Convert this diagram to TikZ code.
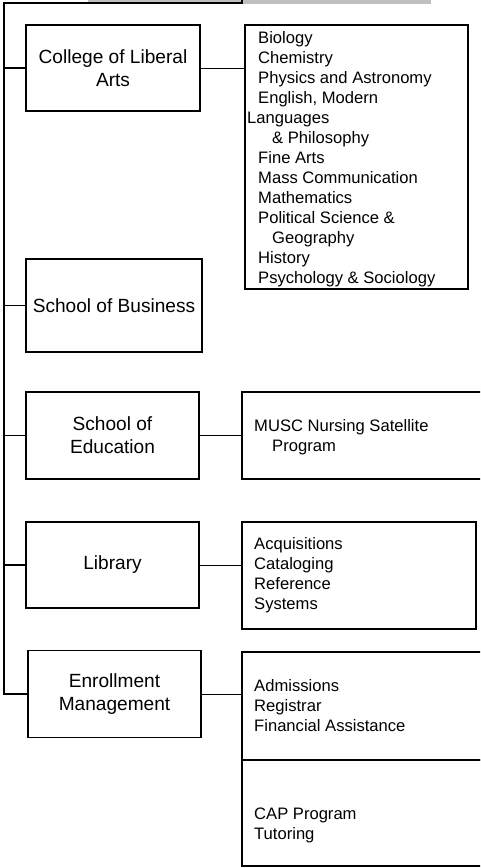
\documentclass[tikz,border=0pt]{standalone}
\usepackage{fontspec}
\setmainfont{Liberation Sans}
\begin{document}
\begin{tikzpicture}[x=1pt,y=-1pt,
    unit/.style={draw,line width=1.1pt,align=center,inner sep=0pt,font=\fontsize{19.1}{23}\selectfont},
    sub/.style={draw,line width=1.1pt,inner sep=0pt},
    list/.style={align=left,anchor=north west,inner sep=0pt,font=\fontsize{16.6}{20}\selectfont},
    trunk/.style={line width=1.1pt},
    link/.style={line width=0.8pt}]
    \useasboundingbox (0,0) rectangle (480,868);
    \clip (0,0) rectangle (480,868);
    \fill[black!25] (88,0) rectangle (431,4);
    \node[unit,minimum width=174pt,minimum height=86pt] (cola) at (113,68) {College of Liberal\\Arts};
    \node[unit,minimum width=176pt,minimum height=93pt] (busn) at (114,305.5) {School of Business};
    \node[unit,minimum width=173pt,minimum height=87pt] (educ) at (112.5,435.5) {School of\\Education};
    \node[unit,minimum width=173pt,minimum height=86pt] (libr) at (112.5,565) {Library};
    \node[unit,minimum width=173pt,minimum height=87pt] (enrl) at (114.5,694) {Enrollment\\Management};
    \node[sub,minimum width=223pt,minimum height=264pt] (colasub) at (356.5,157) {};
    \node[sub,minimum width=258pt,minimum height=87pt] (educsub) at (371,435.5) {};
    \node[sub,minimum width=234pt,minimum height=107pt] (librsub) at (359,575.5) {};
    \node[sub,minimum width=258pt,minimum height=108pt] (enrlsub) at (371,706) {};
    \node[sub,minimum width=258pt,minimum height=106pt] (tutsub) at (371,813) {};
    \node[list] (colalist) at (258,31) {Biology\\Chemistry\\Physics and Astronomy\\English, Modern\\\hspace*{-11pt}Languages\\\hspace*{14pt}\& Philosophy\\Fine Arts\\Mass Communication\\Mathematics\\Political Science \&\\\hspace*{14pt}Geography\\History\\Psychology \& Sociology};
    \node[list] (educlist) at (254,419) {MUSC Nursing Satellite\\\hspace*{18pt}Program};
    \node[list] (librlist) at (254,537) {Acquisitions\\Cataloging\\Reference\\Systems};
    \node[list] (enrllist) at (254,679) {Admissions\\Registrar\\Financial Assistance};
    \node[list] (tutlist) at (254,808) {CAP Program\\Tutoring};
    \coordinate (top) at (4,3);
    \coordinate (tab) at (242,0);
    \draw[trunk] (tab) -- (tab |- top) -- (top) -- (top |- enrl.west) -- (enrl.west);
    \foreach \u in {cola,busn,educ,libr}
        \draw[trunk] (top |- \u.west) -- (\u.west);
    \draw[link] (cola.east) -- (cola.east -| colasub.west);
    \draw[link] (educ.east) -- (educsub.west);
    \draw[link] (libr.east) -- (libr.east -| librsub.west);
    \draw[link] (enrl.east) -- (enrl.east -| enrlsub.west);
\end{tikzpicture}
\end{document}
